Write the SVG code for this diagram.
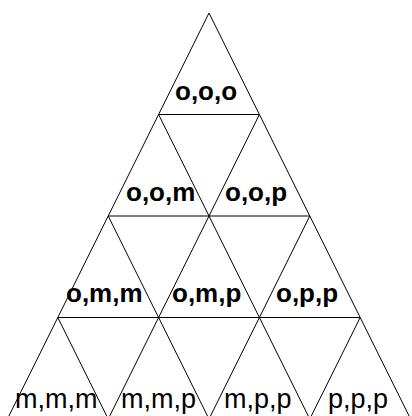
<svg xmlns="http://www.w3.org/2000/svg" width="412" height="416" viewBox="0 0 412 416">
<style>
.t{fill:none;stroke:#000;stroke-width:1}
.b{font-family:"Liberation Sans",Arial,sans-serif;font-weight:bold;font-size:26px;fill:#000}
.r{font-family:"Liberation Sans",Arial,sans-serif;font-size:27px;fill:#000}
</style>
<rect width="412" height="416" fill="#fff"/>
<g id="connectors"></g>
<g id="n-ooo"><polygon class="t" points="209,13 158.6,114.5 259.4,114.5"/><text class="b" x="175" y="100">o,o,o</text></g>
<g id="n-oom"><polygon class="t" points="158.6,114.5 108.2,216 209,216"/><text class="b" x="126" y="201">o,o,m</text></g>
<g id="n-oop"><polygon class="t" points="259.4,114.5 209,216 309.8,216"/><text class="b" x="225" y="201">o,o,p</text></g>
<g id="n-omm"><polygon class="t" points="108.2,216 57.8,317.5 158.6,317.5"/><text class="b" x="66" y="302">o,m,m</text></g>
<g id="n-omp"><polygon class="t" points="209,216 158.6,317.5 259.4,317.5"/><text class="b" x="172" y="302">o,m,p</text></g>
<g id="n-opp"><polygon class="t" points="309.8,216 259.4,317.5 360.2,317.5"/><text class="b" x="276" y="302">o,p,p</text></g>
<g id="n-mmm"><polygon class="t" points="57.8,317.5 7.4,419 108.2,419"/><text class="r" x="15" y="408">m,m,m</text></g>
<g id="n-mmp"><polygon class="t" points="158.6,317.5 108.2,419 209,419"/><text class="r" x="121" y="408">m,m,p</text></g>
<g id="n-mpp"><polygon class="t" points="259.4,317.5 209,419 309.8,419"/><text class="r" x="224" y="408">m,p,p</text></g>
<g id="n-ppp"><polygon class="t" points="360.2,317.5 309.8,419 410.6,419"/><text class="r" x="328" y="408">p,p,p</text></g>
</svg>
